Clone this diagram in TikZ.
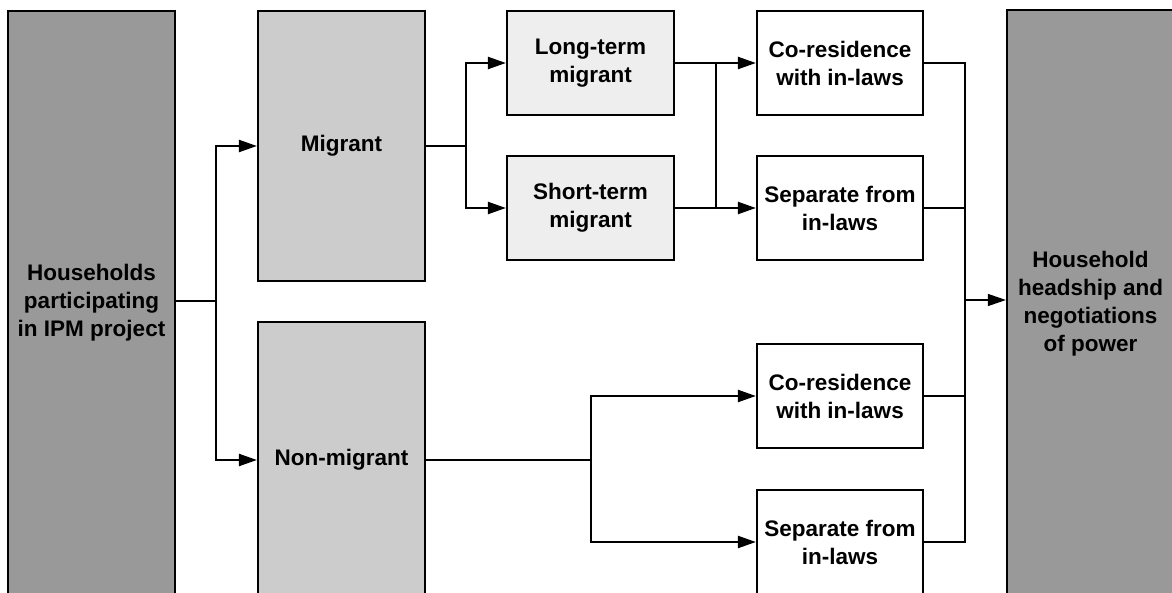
\documentclass[tikz,border=0pt]{standalone}
\usepackage{fontspec}
\setmainfont{Liberation Sans}
\usetikzlibrary{arrows.meta}
\definecolor{darkbox}{HTML}{999999}
\definecolor{midbox}{HTML}{CCCCCC}
\definecolor{lightbox}{HTML}{EEEEEE}
\begin{document}
\begin{tikzpicture}[x=1pt,y=-1pt,
  box/.style={draw=black,line width=2.2pt,rectangle,align=center,inner sep=0pt,
    font=\fontsize{22.5}{28}\selectfont\bfseries},
  conn/.style={line width=2.2pt},
  thin/.style={line width=1.4pt},
  arr/.style={-{Triangle[length=18pt,width=12pt]}}
]
\useasboundingbox (0,0) rectangle (1172,593);
\clip (0,0) rectangle (1172,593);
\node[box,fill=darkbox,minimum width=167,minimum height=584] (hh) at (91.5,303) {Households\\participating\\in IPM project};
\node[box,fill=midbox,minimum width=167,minimum height=270] (mig) at (341.5,146) {Migrant};
\node[box,fill=midbox,minimum width=167,minimum height=276] (non) at (341.5,460) {Non-migrant};
\node[box,fill=lightbox,minimum width=167,minimum height=104] (lt) at (590.5,63) {Long-term\\migrant};
\node[box,fill=lightbox,minimum width=167,minimum height=104] (st) at (590.5,208) {Short-term\\migrant};
\node[box,fill=white,minimum width=166,minimum height=104] (cr1) at (840,63) {Co-residence\\with in-laws};
\node[box,fill=white,minimum width=166,minimum height=104] (sp1) at (840,208) {Separate from\\in-laws};
\node[box,fill=white,minimum width=166,minimum height=104] (cr2) at (840,396) {Co-residence\\with in-laws};
\node[box,fill=white,minimum width=166,minimum height=104] (sp2) at (840,542) {Separate from\\in-laws};
\node[box,fill=darkbox,minimum width=167,minimum height=588] (hp) at (1090.5,304) {\raisebox{6pt}{\begin{tabular}{@{}c@{}}Household\\headship and\\negotiations\\of power\end{tabular}}};
% left junction
\coordinate (j1) at (216,301);
\draw[thin] (hh.east |- j1) -- (j1);
\draw[conn,arr] (j1) |- (mig.west);
\draw[conn,arr] (j1) |- (non.west);
% migrant junction
\coordinate (j2) at (466,146);
\draw[conn] (mig.east) -- (j2);
\draw[conn,arr] (j2) |- (lt.west);
\draw[conn,arr] (j2) |- (st.west);
% long/short to residence
\coordinate (j3t) at (716,63);
\coordinate (j3b) at (716,208);
\draw[conn,arr] (lt.east) -- (cr1.west);
\draw[conn,arr] (st.east) -- (sp1.west);
\draw[conn] (j3t) -- (j3b);
% non-migrant junction
\coordinate (j4) at (591,460);
\draw[conn] (non.east) -- (j4);
\draw[conn,arr] (j4) |- (cr2.west);
\draw[conn,arr] (j4) |- (sp2.west);
% right collector
\coordinate (j5t) at (965,63);
\coordinate (j5b) at (965,542);
\coordinate (j5m) at (965,300);
\draw[conn] (cr1.east) -- (j5t) -- (j5b) -- (sp2.east);
\draw[conn] (sp1.east) -- (sp1.east -| j5t);
\draw[conn] (cr2.east) -- (cr2.east -| j5t);
\draw[thin,arr] (j5m) -- (j5m -| hp.west);
\end{tikzpicture}
\end{document}
